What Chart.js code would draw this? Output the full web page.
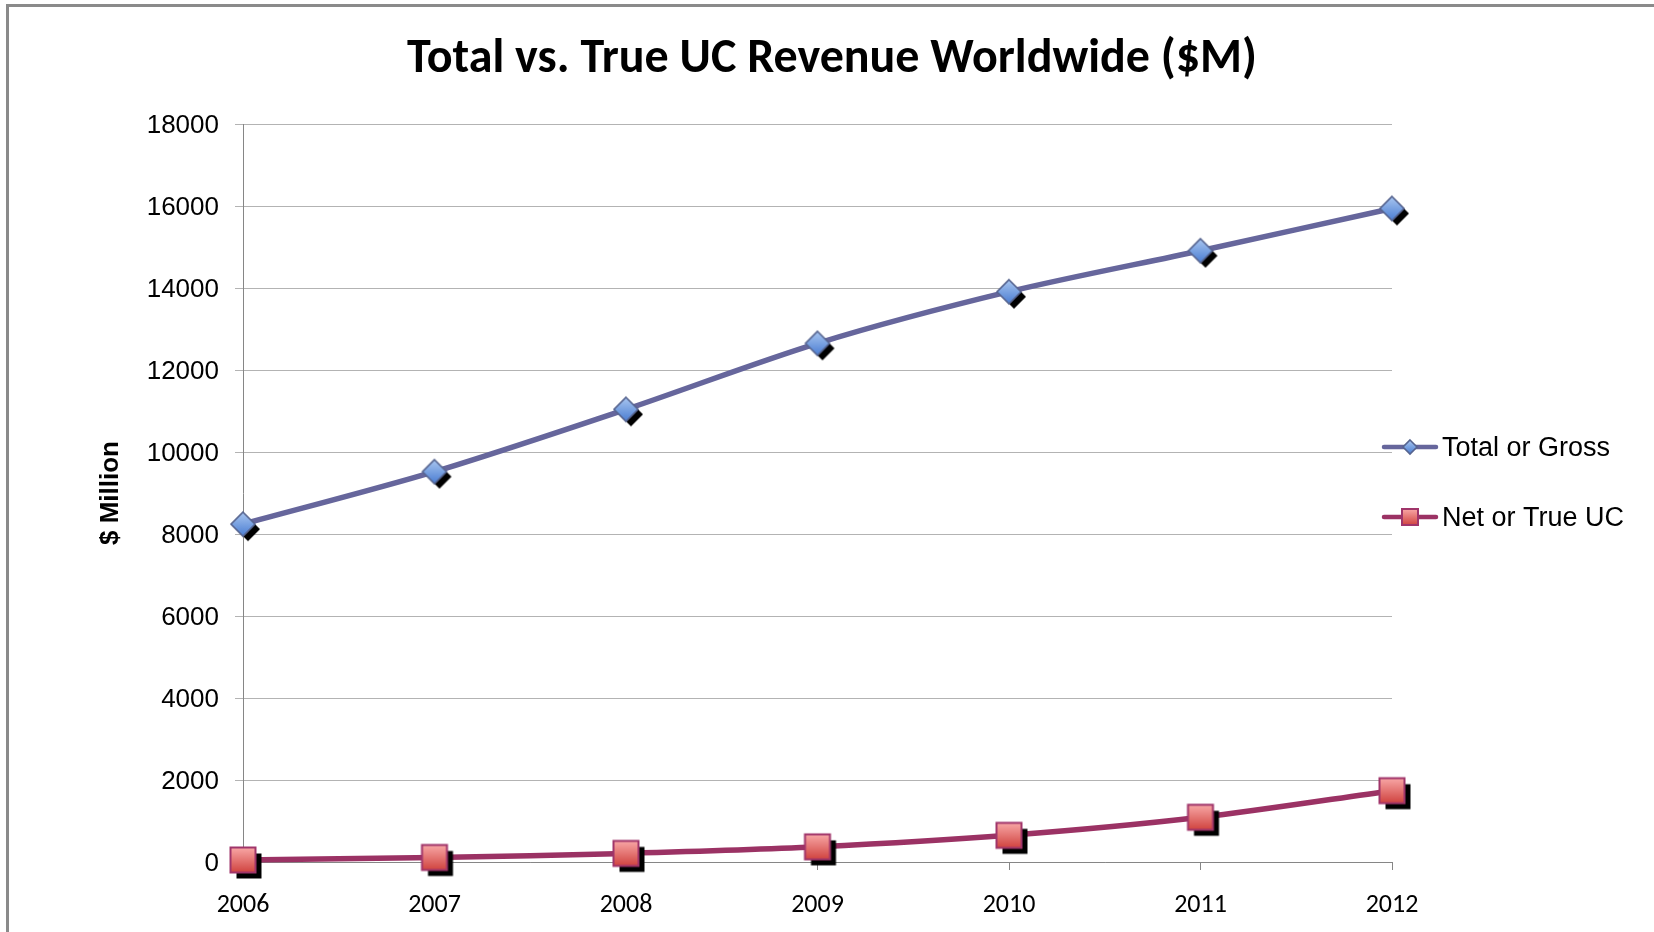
<!DOCTYPE html>
<html>
<head>
<meta charset="utf-8">
<script src="https://cdn.jsdelivr.net/npm/chart.js@4.4.1/dist/chart.umd.min.js"></script>
<style>
  html, body { margin: 0; padding: 0; background: #fff; }
  canvas { display: block; }
</style>
</head>
<body>
<canvas id="c" width="1654" height="932"></canvas>
<script>
// ---- data ----
const years = ['2006', '2007', '2008', '2009', '2010', '2011', '2012'];
const totalGross = [8240, 9520, 11040, 12650, 13910, 14910, 15940];
const netTrueUC = [50, 110, 210, 370, 650, 1090, 1740];
const seriesNames = ['Total or Gross', 'Net or True UC'];
const yTicks = [0, 2000, 4000, 6000, 8000, 10000, 12000, 14000, 16000, 18000];
const chartTitle = 'Total vs. True UC Revenue Worldwide ($M)';
const yTitle = '$ Million';

const ARIAL = 'Arial, "Liberation Sans", sans-serif';
const CAL = 'Carlito, Calibri, Lato, sans-serif';

function diamondPath(ctx, cx, cy, r) {
  ctx.beginPath();
  ctx.moveTo(cx, cy - r);
  ctx.lineTo(cx + r, cy);
  ctx.lineTo(cx, cy + r);
  ctx.lineTo(cx - r, cy);
  ctx.closePath();
}
function squarePath(ctx, cx, cy, s) {
  ctx.beginPath();
  ctx.rect(cx - s / 2, cy - s / 2, s, s);
}
function drawDiamond(ctx, cx, cy, r, shadow) {
  if (shadow) {
    diamondPath(ctx, cx + 5, cy + 5, r);
    ctx.fillStyle = '#000';
    ctx.fill();
  }
  const g = ctx.createLinearGradient(0, cy - r, 0, cy + r);
  g.addColorStop(0, '#a9c6f0');
  g.addColorStop(1, '#4a7dd2');
  diamondPath(ctx, cx, cy, r);
  ctx.fillStyle = g;
  ctx.fill();
  ctx.lineWidth = 1.6;
  ctx.strokeStyle = '#56648f';
  ctx.stroke();
}
function drawSquare(ctx, cx, cy, s, shadow) {
  if (shadow) {
    squarePath(ctx, cx + 6, cy + 6, s);
    ctx.fillStyle = '#000';
    ctx.fill();
  }
  const g = ctx.createLinearGradient(0, cy - s / 2, 0, cy + s / 2);
  g.addColorStop(0, '#f8a7a6');
  g.addColorStop(1, '#d0433f');
  squarePath(ctx, cx, cy, s);
  ctx.fillStyle = g;
  ctx.fill();
  ctx.lineWidth = 2;
  ctx.strokeStyle = '#a0356a';
  ctx.stroke();
}
function makeMarker(kind) {
  const c = document.createElement('canvas');
  c.width = 44; c.height = 44;
  const ctx = c.getContext('2d');
  if (kind === 'diamond') drawDiamond(ctx, 22, 22, 12, true);
  else drawSquare(ctx, 22, 22, 25, true);
  return c;
}

const framePlugin = {
  id: 'frame',
  beforeDraw(chart) {
    const ctx = chart.ctx;
    ctx.save();
    ctx.fillStyle = '#fff';
    ctx.fillRect(0, 0, chart.width, chart.height);
    ctx.strokeStyle = '#8a8a8a';
    ctx.lineWidth = 3;
    ctx.beginPath();
    ctx.moveTo(7.5, 2000);
    ctx.lineTo(7.5, 5.5);
    ctx.lineTo(2000, 5.5);
    ctx.stroke();
    ctx.restore();
  }
};

const titlePlugin = {
  id: 'customTitle',
  afterDraw(chart) {
    const ctx = chart.ctx;
    ctx.save();
    ctx.fillStyle = '#000';
    ctx.font = 'bold 48px ' + CAL;
    ctx.textAlign = 'center';
    ctx.textBaseline = 'alphabetic';
    ctx.fillText(chartTitle, 832, 72);
    ctx.restore();
  }
};

const legendPlugin = {
  id: 'customLegend',
  afterDraw(chart) {
    const ctx = chart.ctx;
    const ys = [447, 517];
    ctx.save();
    chart.data.datasets.forEach((ds, i) => {
      const y = ys[i];
      ctx.strokeStyle = ds.borderColor;
      ctx.lineWidth = 4.5;
      ctx.lineCap = 'round';
      ctx.beginPath();
      ctx.moveTo(1384, y);
      ctx.lineTo(1436, y);
      ctx.stroke();
      if (i === 0) drawDiamond(ctx, 1410, y, 7, false);
      else drawSquare(ctx, 1410, y, 16, false);
      ctx.fillStyle = '#000';
      ctx.font = '27px ' + ARIAL;
      ctx.textAlign = 'left';
      ctx.textBaseline = 'middle';
      ctx.fillText(ds.label, 1442, y + 2);
    });
    ctx.restore();
  }
};

const ctx = document.getElementById('c').getContext('2d');
new Chart(ctx, {
  type: 'line',
  data: {
    labels: years,
    datasets: [
      {
        label: seriesNames[0],
        data: totalGross,
        borderColor: '#66669c',
        borderWidth: 5.5,
        tension: 0.3,
        pointStyle: makeMarker('diamond'),
        pointRadius: 22,
        clip: false,
        fill: false
      },
      {
        label: seriesNames[1],
        data: netTrueUC,
        borderColor: '#9b3264',
        borderWidth: 5.5,
        tension: 0.3,
        pointStyle: makeMarker('square'),
        pointRadius: 22,
        clip: false,
        fill: false
      }
    ]
  },
  options: {
    responsive: false,
    animation: false,
    events: [],
    devicePixelRatio: 1,
    layout: { padding: { left: 0, top: 124, right: 262, bottom: 0 } },
    plugins: {
      legend: { display: false },
      tooltip: { enabled: false },
      title: { display: false }
    },
    scales: {
      x: {
        type: 'category',
        offset: false,
        grid: { drawOnChartArea: false, drawTicks: true, tickLength: 8, color: '#868686', lineWidth: 1 },
        border: { color: '#868686', width: 1 },
        ticks: { color: '#000', font: { family: CAL, size: 26 }, padding: 20, maxRotation: 0, autoSkip: false },
        afterFit(s) { s.height = 70; }
      },
      y: {
        min: 0,
        max: 18000,
        afterBuildTicks(s) { s.ticks = yTicks.map(v => ({ value: v })); },
        grid: { color: '#b3b3b3', lineWidth: 1, tickLength: 8, drawTicks: true },
        border: { color: '#868686', width: 1 },
        ticks: { color: '#000', font: { family: ARIAL, size: 26 }, padding: 16, labelOffset: 2, callback: v => String(v) },
        title: {
          display: true,
          text: yTitle,
          color: '#000',
          font: { family: ARIAL, size: 26, weight: 'bold' },
          padding: { top: 95, bottom: 0 }
        },
        afterFit(s) { s.width = 243; }
      }
    }
  },
  plugins: [framePlugin, titlePlugin, legendPlugin]
});
</script>
</body>
</html>
